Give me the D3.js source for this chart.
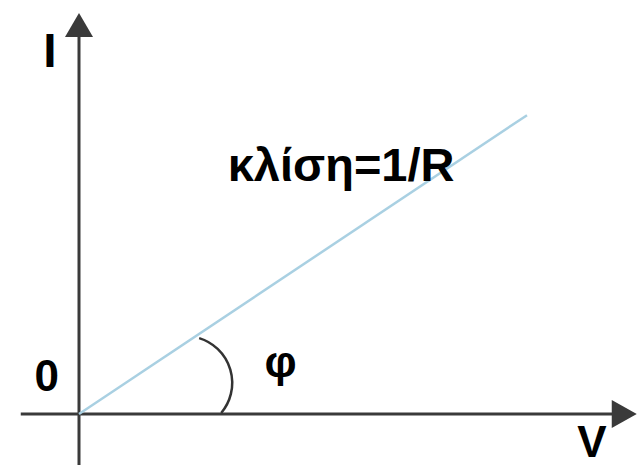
<!DOCTYPE html>
<html><head><meta charset="utf-8">
<script src="https://cdn.jsdelivr.net/npm/d3@7"></script>
<style>html,body{margin:0;padding:0;background:#fff;}svg{display:block;}</style>
</head><body>
<script>
// Data (V in arbitrary units, I in arbitrary units)
const lineV = [0, 10];
const lineI = [0, 6.67];
const xAxisExtent = [-1.3, 12.45];
const yAxisExtent = [-1.2, 8.95];
const arcCenter = [2.375, 0.696];
const arcRadius = 1.045;
const arcAngles = [-72.9, 40.1]; // degrees, screen orientation
const labels = [
  {text: "I", v: -0.65, i: 7.75, size: 48, anchor: "middle"},
  {text: "0", v: -0.72, i: 0.52, size: 44, anchor: "middle"},
  {text: "φ", v: 4.5, i: 0.82, size: 45, anchor: "middle"},
  {text: "V", v: 11.45, i: -0.96, size: 44, anchor: "middle"},
  {text: "κλίση=1/R", v: 5.85, i: 5.2, size: 47, anchor: "middle"}
];

const W = 641, H = 465;
const svg = d3.select("body").append("svg").attr("width", W).attr("height", H);
const k = 44.8;
const x = d3.scaleLinear().domain([0, 10]).range([79, 79 + 10 * k]);
const y = d3.scaleLinear().domain([0, 10]).range([414, 414 - 10 * k]);

const axisColor = "#3a3a3a";
// horizontal axis
svg.append("line")
  .attr("x1", x(xAxisExtent[0])).attr("y1", y(0))
  .attr("x2", x(xAxisExtent[1]) - 20).attr("y2", y(0))
  .attr("stroke", axisColor).attr("stroke-width", 3);
// vertical axis
svg.append("line")
  .attr("x1", x(0)).attr("y1", y(yAxisExtent[0]))
  .attr("x2", x(0)).attr("y2", y(yAxisExtent[1]) + 20)
  .attr("stroke", axisColor).attr("stroke-width", 3);
// arrowheads
const tx = x(xAxisExtent[1]), ty = y(0);
svg.append("path")
  .attr("d", `M${tx},${ty} L${tx - 25},${ty - 14} L${tx - 25},${ty + 14} Z`)
  .attr("fill", axisColor);
const vx = x(0), vy = y(yAxisExtent[1]);
svg.append("path")
  .attr("d", `M${vx},${vy} L${vx - 14},${vy + 24} L${vx + 14},${vy + 24} Z`)
  .attr("fill", axisColor);

// I-V line
const pts = lineV.map((v, j) => [v, lineI[j]]);
svg.append("path")
  .attr("d", d3.line().x(d => x(d[0])).y(d => y(d[1]))(pts))
  .attr("stroke", "#a9d0e2").attr("stroke-width", 2.5).attr("fill", "none");

// angle arc
const p = d3.path();
const cx = x(arcCenter[0]), cy = y(arcCenter[1]);
const r = x(arcRadius) - x(0);
p.arc(cx, cy, r, arcAngles[0] * Math.PI / 180, arcAngles[1] * Math.PI / 180, false);
svg.append("path").attr("d", p.toString())
  .attr("stroke", "#333").attr("stroke-width", 2.5).attr("fill", "none");

// labels
svg.selectAll("text.lbl").data(labels).enter().append("text")
  .attr("class", "lbl")
  .attr("x", d => x(d.v)).attr("y", d => y(d.i))
  .attr("text-anchor", d => d.anchor)
  .attr("font-family", "'Liberation Sans', Arial, sans-serif")
  .attr("font-weight", "bold")
  .attr("font-size", d => d.size)
  .attr("fill", "#000")
  .text(d => d.text);
</script>
</body></html>
